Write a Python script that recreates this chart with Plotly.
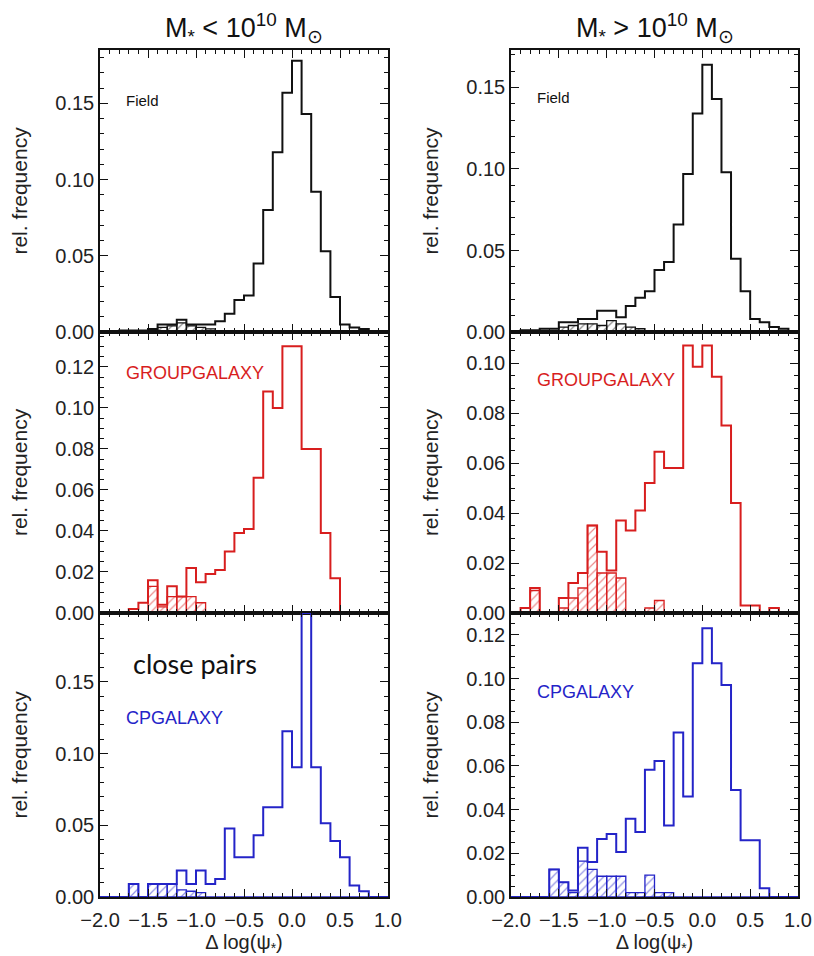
import numpy as np
import plotly.graph_objects as go

# histogram bin edges of delta log(psi_*), 0.1 dex bins
edges = np.round(np.arange(-2.0, 1.0001, 0.1), 1)
centers = edges[:-1] + 0.05

# relative frequency per bin (left edge -2.0 ... 0.9)
field_low = [0, 0, 0.001, 0.001, 0.001, 0.002, 0.005, 0.005, 0.008, 0.005,
             0.005, 0.005, 0.007, 0.012, 0.021, 0.024, 0.045, 0.080, 0.118, 0.157,
             0.178, 0.143, 0.092, 0.053, 0.023, 0.005, 0.003, 0.002, 0, 0]
field_low_sub = [0, 0, 0, 0, 0, 0, 0.003, 0.004, 0.006, 0.004,
                 0.003, 0.002, 0, 0, 0, 0, 0, 0, 0, 0,
                 0, 0, 0, 0, 0, 0, 0, 0, 0, 0]

group_low = [0, 0, 0, 0.002, 0.005, 0.016, 0.004, 0.013, 0.008, 0.022,
             0.015, 0.019, 0.021, 0.030, 0.039, 0.041, 0.066, 0.108, 0.100, 0.130,
             0.130, 0.080, 0.080, 0.039, 0.017, 0, 0, 0, 0, 0]
group_low_sub = [0, 0, 0, 0, 0, 0.013, 0.003, 0.008, 0.008, 0.008,
                 0.005, 0, 0, 0, 0, 0, 0, 0, 0, 0,
                 0, 0, 0, 0, 0, 0, 0, 0, 0, 0]

cp_low = [0, 0, 0, 0.009, 0, 0.009, 0.009, 0.009, 0.0185, 0.009,
          0.0185, 0.009, 0.0125, 0.0477, 0.0278, 0.0278, 0.043, 0.0626, 0.0626, 0.1156,
          0.0905, 0.198, 0.0905, 0.0515, 0.039, 0.0278, 0.008, 0.004, 0, 0]
cp_low_sub = [0, 0, 0, 0.009, 0, 0.009, 0.009, 0.009, 0.005, 0.004,
              0.003, 0, 0, 0, 0, 0, 0, 0, 0, 0,
              0, 0, 0, 0, 0, 0, 0, 0, 0, 0]

field_high = [0, 0.001, 0.001, 0.002, 0.002, 0.006, 0.006, 0.008, 0.008, 0.013,
              0.013, 0.009, 0.016, 0.021, 0.025, 0.038, 0.043, 0.066, 0.097, 0.134,
              0.164, 0.143, 0.098, 0.045, 0.025, 0.008, 0.006, 0.003, 0.002, 0]
field_high_sub = [0, 0, 0, 0, 0, 0.003, 0.004, 0.005, 0.005, 0.004,
                  0.007, 0.005, 0.003, 0.002, 0, 0, 0, 0, 0, 0,
                  0, 0, 0, 0, 0, 0, 0, 0, 0, 0]

group_high = [0, 0.002, 0.010, 0, 0, 0.006, 0.012, 0.016, 0.035, 0.0245,
              0.017, 0.037, 0.033, 0.041, 0.052, 0.0645, 0.058, 0.058, 0.107, 0.0985,
              0.107, 0.0945, 0.075, 0.044, 0.003, 0.003, 0, 0.002, 0, 0]
group_high_sub = [0, 0, 0.009, 0, 0, 0.002, 0.006, 0.010, 0.035, 0.016,
                  0.016, 0.014, 0, 0, 0.002, 0.005, 0, 0, 0, 0,
                  0, 0, 0, 0, 0, 0, 0, 0, 0, 0]

cp_high = [0, 0, 0, 0, 0.0126, 0.0067, 0.003, 0.0226, 0.016, 0.0265,
           0.0288, 0.0206, 0.0358, 0.0297, 0.0583, 0.0622, 0.0327, 0.0753, 0.046, 0.107,
           0.123, 0.107, 0.097, 0.049, 0.026, 0.026, 0.004, 0, 0, 0]
cp_high_sub = [0, 0, 0, 0, 0.0126, 0.0067, 0.002, 0.0164, 0.0126, 0.0095,
               0.0095, 0.0095, 0.002, 0.002, 0.010, 0.002, 0.002, 0, 0, 0,
               0, 0, 0, 0, 0, 0, 0, 0, 0, 0]

x_ticks = [-2.0, -1.5, -1.0, -0.5, 0.0, 0.5, 1.0]

BLACK = "#111111"
RED = "#d81e1e"
BLUE = "#2424c8"
FONT = "Liberation Sans, Arial, sans-serif"

W, H = 814, 956
col_px = [(100, 388), (511, 798)]
row_px = [(50, 332), (332, 613), (613, 897)]

panels = [
    # (row, col, main, sub, colour, ymax, dtick, label)
    (0, 0, field_low, field_low_sub, BLACK, 0.185, 0.05, "Field"),
    (1, 0, group_low, group_low_sub, RED, 0.137, 0.02, "GROUPGALAXY"),
    (2, 0, cp_low, cp_low_sub, BLUE, 0.198, 0.05, "CPGALAXY"),
    (0, 1, field_high, field_high_sub, BLACK, 0.173, 0.05, "Field"),
    (1, 1, group_high, group_high_sub, RED, 0.1124, 0.02, "GROUPGALAXY"),
    (2, 1, cp_high, cp_high_sub, BLUE, 0.130, 0.02, "CPGALAXY"),
]

fig = go.Figure()
layout = {}
annotations = []

for i, (r, c, main, sub, colour, ymax, dt, label) in enumerate(panels, start=1):
    xa = "x" if i == 1 else f"x{i}"
    ya = "y" if i == 1 else f"y{i}"
    x0, x1 = col_px[c]
    y0, y1 = row_px[r]

    # subsample histogram, hatched
    fig.add_trace(go.Bar(
        x=centers, y=sub, width=0.1, base=0,
        marker=dict(color="rgba(255,255,255,0)",
                    line=dict(color=colour, width=1.3),
                    pattern=dict(shape="/", fgcolor=colour, bgcolor="rgba(255,255,255,0)",
                                 size=6, solidity=0.2)),
        xaxis=xa, yaxis=ya, showlegend=False, hoverinfo="skip"))

    # full histogram outline
    fig.add_trace(go.Scatter(
        x=edges, y=list(main) + [main[-1]], mode="lines",
        line=dict(color=colour, width=2, shape="hv"),
        xaxis=xa, yaxis=ya, showlegend=False, hoverinfo="skip"))

    minor_y = 0.01 if dt == 0.05 else 0.005
    common = dict(showline=True, linecolor=BLACK, linewidth=1.5, mirror="allticks",
                  ticks="inside", ticklen=8, tickwidth=1.3, tickcolor=BLACK,
                  showgrid=False, zeroline=False,
                  tickfont=dict(family=FONT, size=20, color="#222222"))
    xaxis = dict(
        domain=[x0 / W, x1 / W], range=[-2.0, 1.0], anchor=ya,
        tickvals=x_ticks, tickformat=".1f", showticklabels=(r == 2),
        minor=dict(ticks="inside", ticklen=4, tickwidth=1, tickcolor=BLACK, dtick=0.1),
        automargin=False, **common)
    if r == 2:
        xaxis["ticklabelstandoff"] = 4
        xaxis["title"] = dict(text="Δ log(ψ<sub>*</sub>)",
                              font=dict(family=FONT, size=20, color="#222222"), standoff=2)
    layout["xaxis" if i == 1 else f"xaxis{i}"] = xaxis
    layout["yaxis" if i == 1 else f"yaxis{i}"] = dict(
        domain=[1 - y1 / H, 1 - y0 / H], range=[0, ymax], anchor=xa,
        dtick=dt, tick0=0, tickformat=".2f",
        minor=dict(ticks="inside", ticklen=4, tickwidth=1, tickcolor=BLACK, dtick=minor_y),
        title=dict(text="rel. frequency", font=dict(family=FONT, size=21, color="#222222"),
                   standoff=22),
        automargin=False, **common)

    # sample label inside each panel
    if label == "Field":
        fsize, ly = 15, (0.152 if c == 0 else 0.144)
    elif label == "GROUPGALAXY":
        fsize, ly = 18, (0.117 if c == 0 else 0.0932)
    else:
        fsize, ly = 18, (0.1248 if c == 0 else 0.0938)
    annotations.append(dict(x=-1.75, y=ly, xref=xa, yref=ya, text=label,
                            showarrow=False, xanchor="left", yanchor="middle",
                            font=dict(family=FONT, size=fsize, color=colour)))

annotations.append(dict(x=-1.68, y=0.163, xref="x3", yref="y3", text="close pairs",
                        showarrow=False, xanchor="left", yanchor="middle",
                        font=dict(family="Lato, Open Sans, sans-serif", size=27, color="#111111")))

# column headings
for c, txt in enumerate(["M<sub>*</sub> &lt; 10<sup>10</sup> M<sub>⊙</sub>",
                         "M<sub>*</sub> &gt; 10<sup>10</sup> M<sub>⊙</sub>"]):
    x0, x1 = col_px[c]
    annotations.append(dict(x=(x0 + x1) / 2 / W, y=1 - 28 / H, xref="paper", yref="paper",
                            text=txt, showarrow=False, xanchor="center", yanchor="middle",
                            font=dict(family=FONT, size=27, color="#111111")))

fig.update_layout(
    width=W, height=H, margin=dict(l=0, r=0, t=0, b=0),
    paper_bgcolor="white", plot_bgcolor="white",
    barmode="overlay", annotations=annotations, **layout)

fig.write_html("out.html")
